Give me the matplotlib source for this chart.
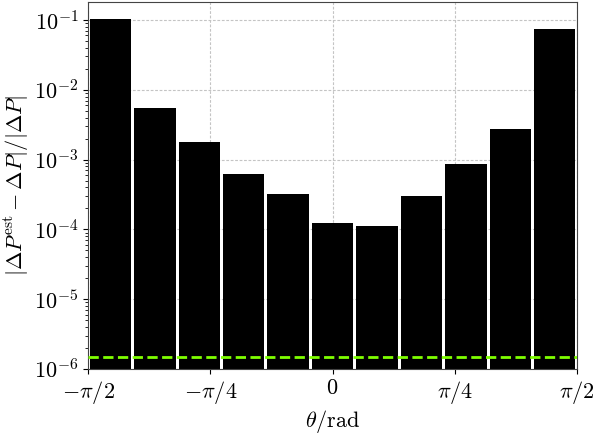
import numpy as np
import matplotlib
matplotlib.use("Agg")
from matplotlib import pyplot as plt

# relative error per angular bin
rel_error = [1.02e-1, 5.5e-3, 1.8e-3, 6.3e-4, 3.25e-4, 1.22e-4,
             1.1e-4, 3.05e-4, 8.5e-4, 2.75e-3, 7.4e-2]
noise_floor = 1.5e-6
tick_pos = [-np.pi / 2, -np.pi / 4, 0, np.pi / 4, np.pi / 2]
tick_labels = [r"$-\pi/2$", r"$-\pi/4$", r"$0$", r"$\pi/4$", r"$\pi/2$"]

plt.rcParams["mathtext.fontset"] = "cm"
plt.rcParams["font.family"] = "serif"
plt.rcParams["font.serif"] = ["cmr10"]
plt.rcParams["axes.formatter.use_mathtext"] = True

n = len(rel_error)
bin_w = np.pi / n
centers = -np.pi / 2 + (np.arange(n) + 0.5) * bin_w

fig = plt.figure(figsize=(5.96, 4.36), dpi=100)
ax = fig.add_axes([0.148, 0.154, 0.82, 0.841])

ax.bar(centers, rel_error, width=bin_w * 0.93, color="black", zorder=2)
ax.axhline(noise_floor, color="#7FFF00", linestyle="--", linewidth=2, zorder=3)

ax.set_yscale("log")
ax.set_ylim(1e-6, 1.8e-1)
ax.set_xlim(-np.pi / 2, np.pi / 2)
ax.set_xticks(tick_pos)
ax.set_xticklabels(tick_labels)
ax.tick_params(labelsize=16)
ax.grid(True, which="major", linestyle=(0, (2.5, 1.5)), color="#c4c4c4", linewidth=0.8, zorder=0)
ax.set_axisbelow(True)
for s in ax.spines.values():
    s.set_color("#444444")

ax.set_xlabel(r"$\theta/{\rm rad}$", fontsize=16, labelpad=2)
ax.set_ylabel(r"$|\Delta P^{\rm est} - \Delta P|/|\Delta P|$", fontsize=16, labelpad=2)

fig.savefig("out.png", dpi=100)
